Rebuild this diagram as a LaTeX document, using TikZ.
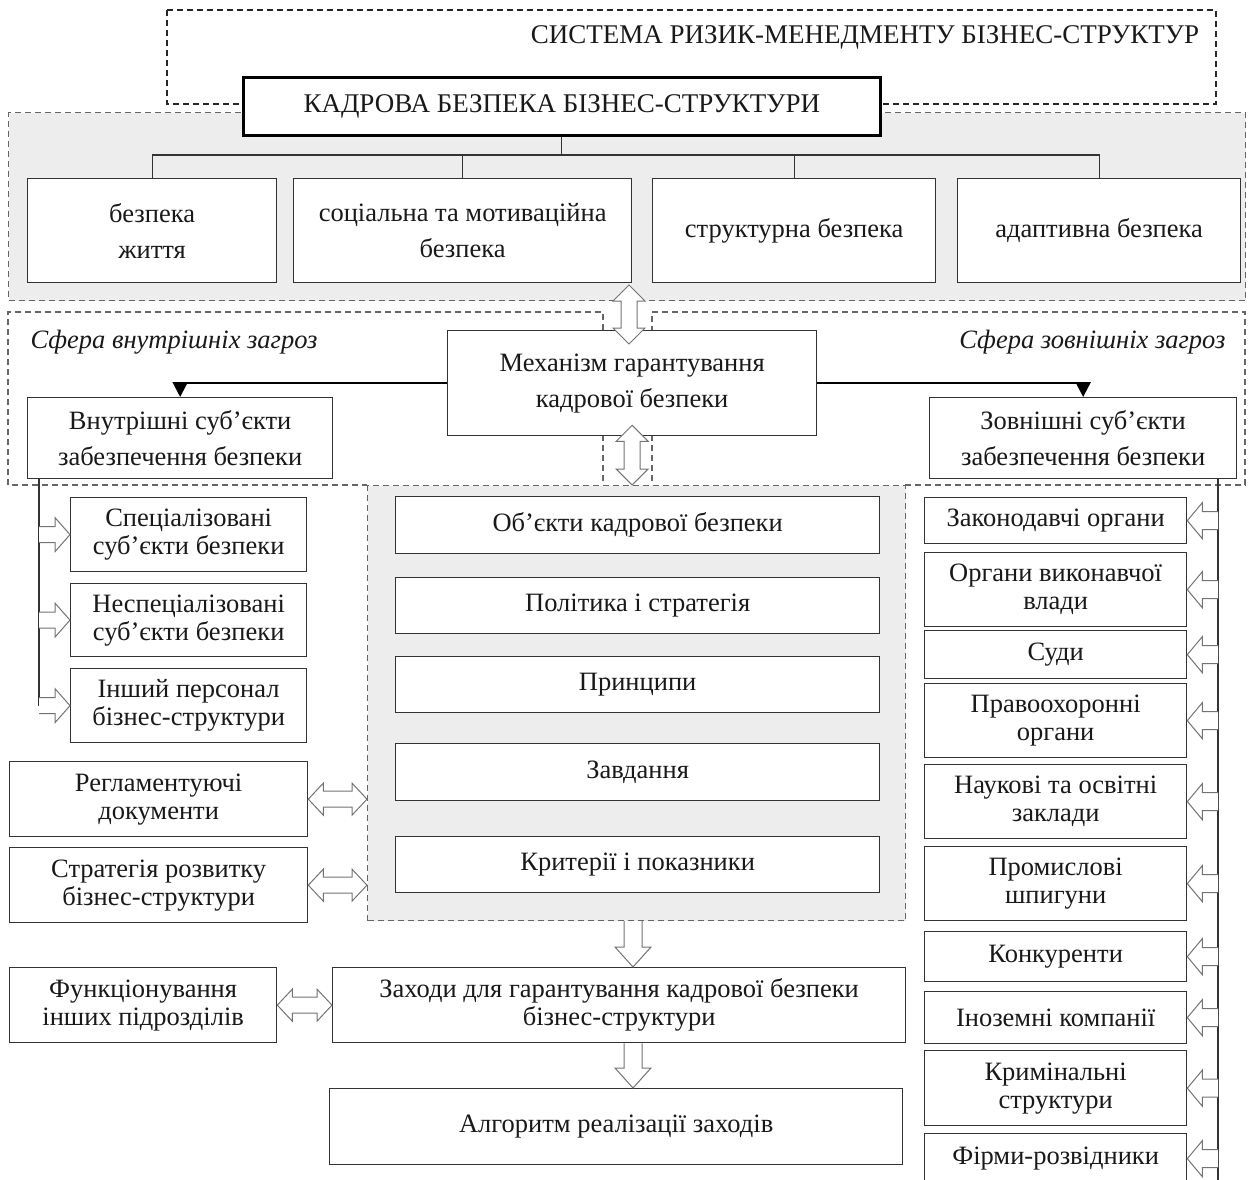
\documentclass[tikz,border=0pt]{standalone}
\usepackage{fontspec}
\setmainfont{Liberation Serif}
\usetikzlibrary{calc,arrows.meta}

% block arrows: hollow, outlined in grey
\newcommand{\blkR}[2]{% tail #1, tip #2, pointing right
  \filldraw[blk] ($(#1)+(0,-8)$) -- ($(#2)+(-15,-8)$) -- ($(#2)+(-15,-17)$) -- (#2)
    -- ($(#2)+(-15,17)$) -- ($(#2)+(-15,8)$) -- ($(#1)+(0,8)$);}
\newcommand{\blkL}[2]{% tail #1, tip #2, pointing left
  \filldraw[blk] ($(#1)+(0,-9)$) -- ($(#2)+(15,-9)$) -- ($(#2)+(15,-18)$) -- (#2)
    -- ($(#2)+(15,18)$) -- ($(#2)+(15,9)$) -- ($(#1)+(0,9)$);}
\newcommand{\blkH}[2]{% two-headed, left tip #1, right tip #2
  \filldraw[blk] (#1) -- ($(#1)+(15,-16)$) -- ($(#1)+(15,-8)$) -- ($(#2)+(-15,-8)$)
    -- ($(#2)+(-15,-16)$) -- (#2) -- ($(#2)+(-15,16)$) -- ($(#2)+(-15,8)$)
    -- ($(#1)+(15,8)$) -- ($(#1)+(15,16)$) -- cycle;}
\newcommand{\blkV}[2]{% two-headed, top tip #1, bottom tip #2
  \filldraw[blk] (#1) -- ($(#1)+(16,16)$) -- ($(#1)+(8,16)$) -- ($(#2)+(8,-16)$)
    -- ($(#2)+(16,-16)$) -- (#2) -- ($(#2)+(-16,-16)$) -- ($(#2)+(-8,-16)$)
    -- ($(#1)+(-8,16)$) -- ($(#1)+(-16,16)$) -- cycle;}
\newcommand{\blkD}[2]{% tail #1, tip #2, pointing down
  \filldraw[blk] ($(#1)+(-9,0)$) -- ($(#2)+(-9,-20)$) -- ($(#2)+(-18,-20)$) -- (#2)
    -- ($(#2)+(18,-20)$) -- ($(#2)+(9,-20)$) -- ($(#1)+(9,0)$);}

\tikzset{
  txt/.style={font=\fontsize{26.5}{28}\selectfont, text=black!90},
  caps/.style={font=\fontsize{27}{30}\selectfont},
  loose/.style={font=\fontsize{26.5}{36}\selectfont},
  box/.style={txt, draw=black!80, line width=1.3pt, fill=white, align=center,
    inner sep=0pt, anchor=north west},
  mainbox/.style={box, draw=black, line width=2.6pt},
  region/.style={draw=black!60, line width=1.2pt, dash pattern=on 6pt off 4pt},
  zone/.style={region, fill=black!7, inner sep=0pt, anchor=north west},
  blk/.style={draw=black!55, line width=1pt, fill=white, line join=miter},
  tree/.style={draw=black!80, line width=1.3pt},
  lead/.style={draw=black, line width=2.2pt, -{Triangle[width=15pt,length=15pt]}},
}

\begin{document}
\begin{tikzpicture}[x=1pt, y=-1pt]
\useasboundingbox (0,0) rectangle (1250,1180);
\clip (0,0) rectangle (1250,1180);

% outer system frame
\draw[region, draw=black!85] (167,10) rectangle (1216,104);
\node[txt, caps] (sys) at (865,37) {СИСТЕМА РИЗИК-МЕНЕДМЕНТУ БІЗНЕС-СТРУКТУР};

% grey zone of the kinds of security
\node[zone, minimum width=1237pt, minimum height=188pt] (kinds) at (8,112) {};

\node[mainbox, caps, minimum width=637pt, minimum height=58pt] (head) at (242,76) {КАДРОВА БЕЗПЕКА БІЗНЕС-СТРУКТУРИ};

\node[box, loose, minimum width=249pt, minimum height=104pt] (b1) at (27,178) {безпека\\життя};
\node[box, loose, minimum width=338pt, minimum height=104pt] (b2) at (293,178) {соціальна та мотиваційна\\безпека};
\node[box, minimum width=283pt, minimum height=104pt] (b3) at (652,178) {структурна безпека};
\node[box, minimum width=283pt, minimum height=104pt] (b4) at (957,178) {адаптивна безпека};

\coordinate (bus) at (560,155);
\draw[tree] (head.south) -- (head.south |- bus);
\draw[tree] (b1.north) -- (b1.north |- bus) -- (b4.north |- bus) -- (b4.north);
\draw[tree] (b2.north) -- (b2.north |- bus);
\draw[tree] (b3.north) -- (b3.north |- bus);

% central grey zone
\node[zone, minimum width=538pt, minimum height=435pt] (core) at (367,485) {};

% zone of threats
\draw[region] (603,330) -- (603,312) -- (8,312) -- (8,485) -- (367,485);
\draw[region] (905,485) -- (1245,485) -- (1245,312) -- (652,312) -- (652,330);
\draw[region] (603,435) -- (603,485);
\draw[region] (652,435) -- (652,485);

\node[txt, anchor=west, font=\fontsize{26.5}{28}\itshape] (inner) at (27,342) {Сфера внутрішніх загроз};
\node[txt, anchor=east, font=\fontsize{26.5}{28}\itshape] (outer) at (1229,342) {Сфера зовнішніх загроз};

\node[box, loose, minimum width=369pt, minimum height=105pt] (mech) at (447,330) {Механізм гарантування\\кадрової безпеки};
\node[box, loose, minimum width=305pt, minimum height=81pt] (int) at (27,397) {Внутрішні суб’єкти\\забезпечення безпеки};
\node[box, loose, minimum width=307pt, minimum height=81pt] (ext) at (929,397) {Зовнішні суб’єкти\\забезпечення безпеки};

\draw[lead] (mech.west) -| (int.north);
\draw[lead] (mech.east) -| (ext.north);

% links across the zones
\coordinate (va) at (629,285);
\coordinate (vb) at (629,344);
\blkV{va}{vb}
\coordinate (vc) at ($(mech.south)+(0,-11)$);
\coordinate (vd) at (mech.south |- core.north);
\blkV{vc}{vd}

% elements of the mechanism
\node[box, minimum width=484pt, minimum height=57pt] (c1) at (395,496) {Об’єкти кадрової безпеки};
\node[box, minimum width=484pt, minimum height=56pt] (c2) at (395,577) {Політика і стратегія};
\node[box, minimum width=484pt, minimum height=56pt] (c3) at (395,656) {Принципи};
\node[box, minimum width=484pt, minimum height=57pt] (c4) at (395,743) {Завдання};
\node[box, minimum width=484pt, minimum height=56pt] (c5) at (395,836) {Критерії і показники};

% internal subjects
\node[box, minimum width=236pt, minimum height=74pt] (s1) at (70,497) {Спеціалізовані\\суб’єкти безпеки};
\node[box, minimum width=236pt, minimum height=73pt] (s2) at (70,583) {Неспеціалізовані\\суб’єкти безпеки};
\node[box, minimum width=236pt, minimum height=74pt] (s3) at (70,668) {Інший персонал\\бізнес-структури};

\coordinate (ll) at (39,0);
\coordinate (l1) at (s1.west -| ll);
\coordinate (l2) at (s2.west -| ll);
\coordinate (l3) at (s3.west -| ll);
\draw[tree] (int.south -| ll) -- (l3);
\blkR{l1}{s1.west}
\blkR{l2}{s2.west}
\blkR{l3}{s3.west}

% documents and other units
\node[box, minimum width=298pt, minimum height=75pt] (regl) at (9,761) {Регламентуючі\\документи};
\node[box, minimum width=298pt, minimum height=75pt] (strat) at (9,847) {Стратегія розвитку\\бізнес-структури};
\node[box, minimum width=267pt, minimum height=75pt] (func) at (9,967) {Функціонування\\інших підрозділів};

\node[box, minimum width=573pt, minimum height=75pt] (meas) at (332,967) {Заходи для гарантування кадрової безпеки\\бізнес-структури};
\node[box, minimum width=573pt, minimum height=76pt] (algo) at (329,1088) {Алгоритм реалізації заходів};

\coordinate (h1) at (regl.east -| core.west);
\blkH{regl.east}{h1}
\coordinate (h2) at (strat.east -| core.west);
\blkH{strat.east}{h2}
\blkH{func.east}{meas.west}

\coordinate (ax) at (633,0);
\coordinate (d1) at (core.south -| ax);
\coordinate (d2) at (meas.north -| ax);
\blkD{d1}{d2}
\coordinate (d3) at (meas.south -| ax);
\coordinate (d4) at (algo.north -| ax);
\blkD{d3}{d4}

% external subjects
\node[box, minimum width=262pt, minimum height=46pt] (r1) at (924,497) {Законодавчі органи};
\node[box, minimum width=262pt, minimum height=74pt] (r2) at (924,552) {Органи виконавчої\\влади};
\node[box, minimum width=262pt, minimum height=48pt] (r3) at (924,630) {Суди};
\node[box, minimum width=262pt, minimum height=74pt] (r4) at (924,683) {Правоохоронні\\органи};
\node[box, minimum width=262pt, minimum height=74pt] (r5) at (924,764) {Наукові та освітні\\заклади};
\node[box, minimum width=262pt, minimum height=74pt] (r6) at (924,846) {Промислові\\шпигуни};
\node[box, minimum width=262pt, minimum height=50pt] (r7) at (924,931) {Конкуренти};
\node[box, minimum width=262pt, minimum height=52pt] (r8) at (924,991) {Іноземні компанії};
\node[box, minimum width=262pt, minimum height=75pt] (r9) at (924,1050) {Кримінальні\\структури};
\node[box, minimum width=262pt, minimum height=50pt] (r10) at (924,1133) {Фірми-розвідники};

\coordinate (rl) at (1218,0);
\coordinate (rend) at (1218,1180);
\draw[tree] (ext.south -| rl) -- (rend);
\foreach \r in {r1,r2,r3,r4,r5,r6,r7,r8,r9,r10}{
  \coordinate (t\r) at (\r.east -| rl);
  \blkL{t\r}{\r.east}
}
\end{tikzpicture}
\end{document}
